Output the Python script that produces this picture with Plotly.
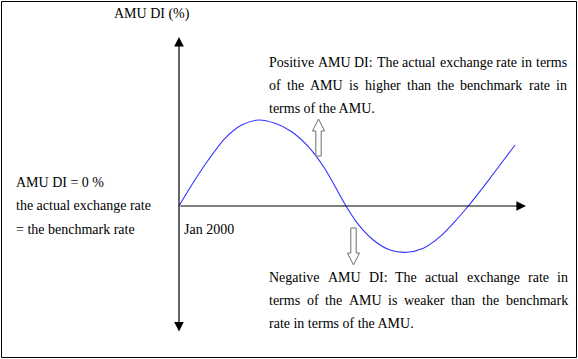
import plotly.graph_objects as go

# ---- data (conceptual units: x = time after Jan 2000, y = AMU DI %) ----
t_vals = [0, 1.27, 2.93, 4.6, 6.27, 7.93, 9.6, 11.27, 12.93, 14.6, 16.7,
          17.77, 19.43, 21.1, 22.77, 24.43, 26.1, 27.77, 28.93, 31.1, 33.6]
di_vals = [0, 2.1, 4.6, 6.77, 8.1, 8.6, 8.27, 7.43, 5.93, 3.7, 0,
           -1.63, -3.4, -4.4, -4.63, -4.23, -3.07, -1.35, 0, 2.77, 6.1]

axis_title = "AMU DI (%)"
origin_label = "Jan 2000"
left_lines = ["AMU DI = 0 %", "the actual exchange rate", "= the benchmark rate"]
pos_lines = ["Positive AMU DI: The actual exchange rate in terms",
             "of the AMU is higher than the benchmark rate in",
             "terms of the AMU."]
neg_lines = ["Negative AMU DI: The actual exchange rate in",
             "terms of the AMU is weaker than the benchmark",
             "rate in terms of the AMU."]

W, H = 578, 359
FONT = "Liberation Serif"
FS = 14

# Times / Liberation Serif advance widths (per 1000 em)
TW = {' ': 250, '(': 333, ')': 333, '%': 833, '.': 250, ':': 278, '=': 564, '0': 500, '2': 500,
      'A': 722, 'D': 722, 'I': 333, 'M': 889, 'N': 722, 'P': 556, 'T': 611, 'U': 722, 'J': 389,
      'a': 444, 'b': 500, 'c': 444, 'd': 500, 'e': 444, 'f': 333, 'g': 500, 'h': 500, 'i': 278,
      'k': 500, 'l': 278, 'm': 778, 'n': 500, 'o': 500, 'p': 500, 'r': 333, 's': 389, 't': 278,
      'u': 500, 'v': 500, 'w': 722, 'x': 500, 'y': 500}


def text_w(s):
    return sum(TW.get(c, 500) for c in s) * FS / 1000.0


fig = go.Figure()
fig.add_trace(go.Scatter(x=t_vals, y=di_vals, mode="lines",
                         line=dict(color="rgb(50,50,255)", width=1.1, shape="spline", smoothing=0.8),
                         hoverinfo="skip", showlegend=False))

annotations = []
shapes = []


def px2paper(px, py):
    return px / W, 1 - py / H


def add_text(s, px, py, anchor="left"):
    x, y = px2paper(px, py)
    annotations.append(dict(text=s, x=x, y=y, xref="paper", yref="paper", xanchor=anchor,
                            yanchor="middle", showarrow=False, borderpad=0,
                            font=dict(family=FONT, size=FS, color="black")))


def add_justified(lines, x_left, x_right, y0, dy):
    for i, line in enumerate(lines):
        py = y0 + i * dy
        words = line.split(" ")
        if i == len(lines) - 1 or len(words) < 2:
            add_text(line, x_left, py)
            continue
        ws = [text_w(w) for w in words]
        gap = (x_right - x_left - sum(ws)) / (len(words) - 1)
        x = x_left
        for w, ww in zip(words, ws):
            add_text(w, x, py)
            x += ww + gap


add_text(axis_title, 113, 14)
add_text(origin_label, 183, 229)
for i, s in enumerate(left_lines):
    add_text(s, 15, 182 + i * 23.5)
add_justified(pos_lines, 268, 566, 62.5, 23)
add_justified(neg_lines, 268, 567, 277, 23)

# axes as arrows (data coordinates)
annotations.append(dict(x=0, y=16.9, ax=0, ay=-12.7, xref="x", yref="y", axref="x", ayref="y",
                        text="", showarrow=True, arrowhead=2, startarrowhead=2, arrowside="end+start",
                        arrowsize=1.6, startarrowsize=1.6, arrowwidth=1.2, arrowcolor="black"))
annotations.append(dict(x=34.7, y=0, ax=0, ay=0, xref="x", yref="y", axref="x", ayref="y",
                        text="", showarrow=True, arrowhead=2, arrowsize=1.6, arrowwidth=1.2,
                        arrowcolor="black"))


def hollow_arrow(xc, y_base, y_tip, y_head, half_head=0.6, half_shaft=0.27):
    return (f"M{xc - half_shaft},{y_base} L{xc - half_shaft},{y_head} L{xc - half_head},{y_head} "
            f"L{xc},{y_tip} L{xc + half_head},{y_head} L{xc + half_shaft},{y_head} "
            f"L{xc + half_shaft},{y_base} Z")


shapes.append(dict(type="path", xref="x", yref="y", path=hollow_arrow(13.95, 5.0, 8.7, 7.5),
                   line=dict(color="rgb(110,110,110)", width=1), fillcolor="white"))
shapes.append(dict(type="path", xref="x", yref="y", path=hollow_arrow(17.45, -2.2, -5.9, -4.7),
                   line=dict(color="rgb(110,110,110)", width=1), fillcolor="white"))

# outer frame
shapes.append(dict(type="rect", xref="paper", yref="paper", x0=1.5 / W, x1=576.5 / W,
                   y0=1 - 357.5 / H, y1=1 - 1.5 / H, line=dict(color="black", width=1)))

fig.update_layout(
    width=W, height=H, margin=dict(l=0, r=0, t=0, b=0),
    paper_bgcolor="white", plot_bgcolor="white",
    xaxis=dict(range=[-17.9, 39.9], visible=False, fixedrange=True),
    yaxis=dict(range=[-15.3, 20.6], visible=False, fixedrange=True),
    annotations=annotations, shapes=shapes, showlegend=False,
)

fig.write_html("out.html", config={"displayModeBar": False},
               post_script="document.body.style.margin='0';document.body.style.overflow='hidden';")
